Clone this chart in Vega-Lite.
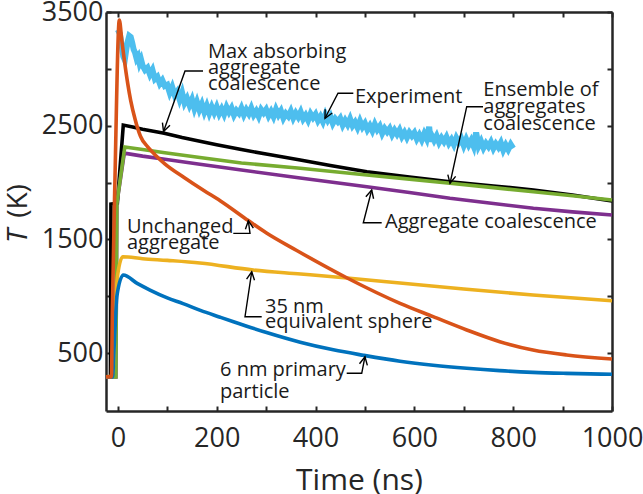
{
  "$schema": "https://vega.github.io/schema/vega-lite/v6.json",
  "width": 506,
  "height": 399,
  "autosize": "none",
  "padding": {"left": 106, "top": 12, "right": 31, "bottom": 83},
  "background": "white",
  "config": {
    "font": "Open Sans",
    "view": {"stroke": null},
    "axis": {
      "grid": false,
      "domainColor": "#262626",
      "domainWidth": 2.5,
      "tickColor": "#262626",
      "tickWidth": 2,
      "tickSize": -5,
      "labelFont": "Open Sans",
      "labelFontSize": 27,
      "labelColor": "#262626",
      "labelOverlap": false,
      "labelFlush": false,
      "labelBound": false,
      "titleFont": "Open Sans",
      "titleFontSize": 30,
      "titleFontWeight": "normal",
      "titleColor": "#262626"
    }
  },
  "datasets": {
    "models": [
      {"series": "Ensemble", "t": -24, "T": 290}, {"series": "Ensemble", "t": -15, "T": 290}, {"series": "Ensemble", "t": -14, "T": 1810}, {"series": "Ensemble", "t": -1, "T": 1818}, {"series": "Ensemble", "t": 11, "T": 2505}, {"series": "Ensemble", "t": 30, "T": 2488}, {"series": "Ensemble", "t": 50, "T": 2468}, {"series": "Ensemble", "t": 94, "T": 2433}, {"series": "Ensemble", "t": 130, "T": 2395}, {"series": "Ensemble", "t": 166, "T": 2362}, {"series": "Ensemble", "t": 200, "T": 2333}, {"series": "Ensemble", "t": 250, "T": 2290}, {"series": "Ensemble", "t": 300, "T": 2250}, {"series": "Ensemble", "t": 369, "T": 2198}, {"series": "Ensemble", "t": 430, "T": 2150}, {"series": "Ensemble", "t": 504, "T": 2095}, {"series": "Ensemble", "t": 590, "T": 2048}, {"series": "Ensemble", "t": 672, "T": 2007}, {"series": "Ensemble", "t": 760, "T": 1970}, {"series": "Ensemble", "t": 841, "T": 1934}, {"series": "Ensemble", "t": 920, "T": 1890}, {"series": "Ensemble", "t": 1000, "T": 1837},
      {"series": "Aggregate", "t": -24, "T": 290}, {"series": "Aggregate", "t": -4, "T": 290}, {"series": "Aggregate", "t": -2, "T": 1818}, {"series": "Aggregate", "t": 13, "T": 2258}, {"series": "Aggregate", "t": 50, "T": 2232}, {"series": "Aggregate", "t": 95, "T": 2205}, {"series": "Aggregate", "t": 166, "T": 2160}, {"series": "Aggregate", "t": 250, "T": 2110}, {"series": "Aggregate", "t": 369, "T": 2040}, {"series": "Aggregate", "t": 504, "T": 1963}, {"series": "Aggregate", "t": 590, "T": 1912}, {"series": "Aggregate", "t": 672, "T": 1861}, {"series": "Aggregate", "t": 760, "T": 1815}, {"series": "Aggregate", "t": 841, "T": 1773}, {"series": "Aggregate", "t": 920, "T": 1742}, {"series": "Aggregate", "t": 1000, "T": 1714},
      {"series": "MaxAbs", "t": -24, "T": 290}, {"series": "MaxAbs", "t": -4, "T": 290}, {"series": "MaxAbs", "t": -2, "T": 1818}, {"series": "MaxAbs", "t": 14, "T": 2313}, {"series": "MaxAbs", "t": 50, "T": 2290}, {"series": "MaxAbs", "t": 95, "T": 2262}, {"series": "MaxAbs", "t": 166, "T": 2220}, {"series": "MaxAbs", "t": 250, "T": 2172}, {"series": "MaxAbs", "t": 369, "T": 2125}, {"series": "MaxAbs", "t": 504, "T": 2066}, {"series": "MaxAbs", "t": 590, "T": 2030}, {"series": "MaxAbs", "t": 672, "T": 1993}, {"series": "MaxAbs", "t": 760, "T": 1955}, {"series": "MaxAbs", "t": 841, "T": 1919}, {"series": "MaxAbs", "t": 920, "T": 1884}, {"series": "MaxAbs", "t": 1000, "T": 1846},
      {"series": "Sphere35", "t": -24, "T": 290}, {"series": "Sphere35", "t": -12, "T": 295}, {"series": "Sphere35", "t": -9, "T": 400}, {"series": "Sphere35", "t": -6, "T": 800}, {"series": "Sphere35", "t": 0, "T": 1200}, {"series": "Sphere35", "t": 10, "T": 1347}, {"series": "Sphere35", "t": 50, "T": 1330}, {"series": "Sphere35", "t": 100, "T": 1315}, {"series": "Sphere35", "t": 166, "T": 1292}, {"series": "Sphere35", "t": 274, "T": 1230}, {"series": "Sphere35", "t": 370, "T": 1195}, {"series": "Sphere35", "t": 464, "T": 1160}, {"series": "Sphere35", "t": 571, "T": 1116}, {"series": "Sphere35", "t": 700, "T": 1063}, {"series": "Sphere35", "t": 840, "T": 1010}, {"series": "Sphere35", "t": 1000, "T": 960},
      {"series": "Primary6", "t": -24, "T": 290}, {"series": "Primary6", "t": -11, "T": 290}, {"series": "Primary6", "t": -7, "T": 600}, {"series": "Primary6", "t": -2, "T": 1000}, {"series": "Primary6", "t": 11, "T": 1186}, {"series": "Primary6", "t": 40, "T": 1110}, {"series": "Primary6", "t": 65, "T": 1054}, {"series": "Primary6", "t": 100, "T": 985}, {"series": "Primary6", "t": 132, "T": 935}, {"series": "Primary6", "t": 167, "T": 875}, {"series": "Primary6", "t": 207, "T": 815}, {"series": "Primary6", "t": 234, "T": 775}, {"series": "Primary6", "t": 301, "T": 680}, {"series": "Primary6", "t": 369, "T": 595}, {"series": "Primary6", "t": 436, "T": 528}, {"series": "Primary6", "t": 497, "T": 480}, {"series": "Primary6", "t": 571, "T": 428}, {"series": "Primary6", "t": 638, "T": 393}, {"series": "Primary6", "t": 706, "T": 366}, {"series": "Primary6", "t": 773, "T": 345}, {"series": "Primary6", "t": 840, "T": 330}, {"series": "Primary6", "t": 908, "T": 321}, {"series": "Primary6", "t": 1000, "T": 313},
      {"series": "Unchanged", "t": -24, "T": 290}, {"series": "Unchanged", "t": -13, "T": 290}, {"series": "Unchanged", "t": -11, "T": 900}, {"series": "Unchanged", "t": -6, "T": 2000}, {"series": "Unchanged", "t": 3, "T": 3430}, {"series": "Unchanged", "t": 8, "T": 3250}, {"series": "Unchanged", "t": 13, "T": 3080}, {"series": "Unchanged", "t": 20, "T": 2870}, {"series": "Unchanged", "t": 26, "T": 2720}, {"series": "Unchanged", "t": 35, "T": 2555}, {"series": "Unchanged", "t": 46, "T": 2405}, {"series": "Unchanged", "t": 60, "T": 2315}, {"series": "Unchanged", "t": 75, "T": 2245}, {"series": "Unchanged", "t": 95, "T": 2165}, {"series": "Unchanged", "t": 134, "T": 2045}, {"series": "Unchanged", "t": 174, "T": 1930}, {"series": "Unchanged", "t": 207, "T": 1840}, {"series": "Unchanged", "t": 264, "T": 1665}, {"series": "Unchanged", "t": 300, "T": 1558}, {"series": "Unchanged", "t": 362, "T": 1402}, {"series": "Unchanged", "t": 464, "T": 1160}, {"series": "Unchanged", "t": 571, "T": 937}, {"series": "Unchanged", "t": 638, "T": 820}, {"series": "Unchanged", "t": 706, "T": 703}, {"series": "Unchanged", "t": 773, "T": 600}, {"series": "Unchanged", "t": 840, "T": 527}, {"series": "Unchanged", "t": 908, "T": 483}, {"series": "Unchanged", "t": 1000, "T": 447}
    ],
    "experiment": [
      {"t": 0, "T": 3345}, {"t": 4, "T": 3310}, {"t": 8, "T": 3200}, {"t": 11, "T": 3110}, {"t": 14, "T": 3080}, {"t": 17, "T": 3170}, {"t": 20, "T": 3240}, {"t": 23, "T": 3290}, {"t": 26, "T": 3280}, {"t": 29, "T": 3230}, {"t": 32, "T": 3170}, {"t": 35, "T": 3140}, {"t": 38, "T": 3090}, {"t": 41, "T": 3110}, {"t": 44, "T": 3050}, {"t": 47, "T": 3080},
      {"t": 50, "T": 3030}, {"t": 55, "T": 2990}, {"t": 60, "T": 3010}, {"t": 65, "T": 2950}, {"t": 70, "T": 2990}, {"t": 75, "T": 2910}, {"t": 80, "T": 2930}, {"t": 85, "T": 2870}, {"t": 90, "T": 2900}, {"t": 95, "T": 2850},
      {"t": 100, "T": 2860}, {"t": 105, "T": 2790}, {"t": 110, "T": 2840}, {"t": 115, "T": 2770}, {"t": 120, "T": 2800}, {"t": 125, "T": 2730}, {"t": 130, "T": 2790}, {"t": 135, "T": 2700}, {"t": 140, "T": 2740}, {"t": 145, "T": 2680},
      {"t": 150, "T": 2730}, {"t": 155, "T": 2650}, {"t": 160, "T": 2710}, {"t": 165, "T": 2640}, {"t": 170, "T": 2690}, {"t": 175, "T": 2620}, {"t": 180, "T": 2675}, {"t": 185, "T": 2610}, {"t": 190, "T": 2665}, {"t": 195, "T": 2615},
      {"t": 200, "T": 2665}, {"t": 205, "T": 2605}, {"t": 210, "T": 2648}, {"t": 215, "T": 2600}, {"t": 220, "T": 2663}, {"t": 225, "T": 2618}, {"t": 230, "T": 2655}, {"t": 235, "T": 2593}, {"t": 240, "T": 2633}, {"t": 245, "T": 2608},
      {"t": 250, "T": 2655}, {"t": 255, "T": 2595}, {"t": 260, "T": 2640}, {"t": 265, "T": 2605}, {"t": 270, "T": 2655}, {"t": 275, "T": 2595}, {"t": 280, "T": 2628}, {"t": 285, "T": 2582}, {"t": 290, "T": 2642}, {"t": 295, "T": 2612},
      {"t": 300, "T": 2642}, {"t": 305, "T": 2587}, {"t": 310, "T": 2625}, {"t": 315, "T": 2580}, {"t": 320, "T": 2643}, {"t": 325, "T": 2595}, {"t": 330, "T": 2630}, {"t": 335, "T": 2567}, {"t": 340, "T": 2607}, {"t": 345, "T": 2582},
      {"t": 350, "T": 2627}, {"t": 355, "T": 2567}, {"t": 360, "T": 2610}, {"t": 365, "T": 2575}, {"t": 370, "T": 2620}, {"t": 375, "T": 2560}, {"t": 380, "T": 2592}, {"t": 385, "T": 2548}, {"t": 390, "T": 2605}, {"t": 395, "T": 2570},
      {"t": 400, "T": 2600}, {"t": 405, "T": 2545}, {"t": 410, "T": 2580}, {"t": 415, "T": 2535}, {"t": 420, "T": 2597}, {"t": 425, "T": 2548}, {"t": 430, "T": 2583}, {"t": 435, "T": 2520}, {"t": 440, "T": 2560}, {"t": 445, "T": 2535},
      {"t": 450, "T": 2565}, {"t": 455, "T": 2505}, {"t": 460, "T": 2547}, {"t": 465, "T": 2510}, {"t": 470, "T": 2560}, {"t": 475, "T": 2500}, {"t": 480, "T": 2530}, {"t": 485, "T": 2483}, {"t": 490, "T": 2540}, {"t": 495, "T": 2488},
      {"t": 500, "T": 2520}, {"t": 505, "T": 2465}, {"t": 510, "T": 2500}, {"t": 515, "T": 2455}, {"t": 520, "T": 2512}, {"t": 525, "T": 2465}, {"t": 530, "T": 2495}, {"t": 535, "T": 2432}, {"t": 540, "T": 2475}, {"t": 545, "T": 2445},
      {"t": 550, "T": 2475}, {"t": 555, "T": 2420}, {"t": 560, "T": 2460}, {"t": 565, "T": 2425}, {"t": 570, "T": 2462}, {"t": 575, "T": 2405}, {"t": 580, "T": 2440}, {"t": 585, "T": 2395}, {"t": 590, "T": 2440}, {"t": 595, "T": 2410},
      {"t": 600, "T": 2438}, {"t": 605, "T": 2383}, {"t": 610, "T": 2420}, {"t": 615, "T": 2375}, {"t": 620, "T": 2430}, {"t": 625, "T": 2385}, {"t": 630, "T": 2490}, {"t": 633, "T": 2360}, {"t": 636, "T": 2405}, {"t": 640, "T": 2370}, {"t": 645, "T": 2410},
      {"t": 650, "T": 2353}, {"t": 655, "T": 2393}, {"t": 660, "T": 2360}, {"t": 665, "T": 2400}, {"t": 670, "T": 2345}, {"t": 675, "T": 2378}, {"t": 680, "T": 2333}, {"t": 685, "T": 2392}, {"t": 690, "T": 2352}, {"t": 695, "T": 2385},
      {"t": 700, "T": 2325}, {"t": 705, "T": 2380}, {"t": 710, "T": 2330}, {"t": 715, "T": 2370}, {"t": 720, "T": 2318}, {"t": 725, "T": 2440}, {"t": 730, "T": 2320}, {"t": 735, "T": 2362}, {"t": 740, "T": 2305}, {"t": 745, "T": 2345},
      {"t": 750, "T": 2315}, {"t": 755, "T": 2355}, {"t": 760, "T": 2300}, {"t": 765, "T": 2340}, {"t": 770, "T": 2310}, {"t": 775, "T": 2350}, {"t": 780, "T": 2285}, {"t": 785, "T": 2330}, {"t": 790, "T": 2290}, {"t": 795, "T": 2335}, {"t": 800, "T": 2300}
    ],
    "leaders": [
      {"id": "max", "i": 0, "t": 172.3, "T": 2981}, {"id": "max", "i": 1, "t": 135.9, "T": 2981}, {"id": "max", "i": 2, "t": 92.4, "T": 2449},
      {"id": "exp", "i": 0, "t": 476.5, "T": 2785}, {"id": "exp", "i": 1, "t": 445.5, "T": 2785}, {"id": "exp", "i": 2, "t": 419.2, "T": 2565},
      {"id": "ens", "i": 0, "t": 739, "T": 2667}, {"id": "ens", "i": 1, "t": 706, "T": 2667}, {"id": "ens", "i": 2, "t": 672.2, "T": 1993},
      {"id": "agg", "i": 0, "t": 533.9, "T": 1646}, {"id": "agg", "i": 1, "t": 496.7, "T": 1646}, {"id": "agg", "i": 2, "t": 513.7, "T": 1934},
      {"id": "unch", "i": 0, "t": 233.6, "T": 1553}, {"id": "unch", "i": 1, "t": 267.4, "T": 1553}, {"id": "unch", "i": 2, "t": 264, "T": 1664},
      {"id": "s35", "i": 0, "t": 291.1, "T": 819.5}, {"id": "s35", "i": 1, "t": 257.3, "T": 819.5}, {"id": "s35", "i": 2, "t": 270.9, "T": 1215},
      {"id": "p6", "i": 0, "t": 463.1, "T": 321.6}, {"id": "p6", "i": 1, "t": 493.5, "T": 321.6}, {"id": "p6", "i": 2, "t": 500.1, "T": 467.7}
    ],
    "heads": [
      {"id": "max", "t": 92.4, "T": 2449, "heading": 199.6},
      {"id": "exp", "t": 419.2, "T": 2565, "heading": 207.5},
      {"id": "ens", "t": 672.2, "T": 1993, "heading": 192.3},
      {"id": "agg", "t": 513.7, "T": 1934, "heading": 14.4},
      {"id": "unch", "t": 264, "T": 1664, "heading": 352.3},
      {"id": "s35", "t": 270.9, "T": 1215, "heading": 8.5},
      {"id": "p6", "t": 500.1, "T": 467.7, "heading": 11.2}
    ],
    "notes": [
      {"t": 182.4, "T": 3148, "text": "Max absorbing"},
      {"t": 182.4, "T": 3007, "text": "aggregate"},
      {"t": 182.4, "T": 2871, "text": "coalescence"},
      {"t": 479.9, "T": 2755, "text": "Experiment"},
      {"t": 739.6, "T": 2814, "text": "Ensemble of"},
      {"t": 739.6, "T": 2662, "text": "aggregates"},
      {"t": 739.6, "T": 2515, "text": "coalescence"},
      {"t": 540.6, "T": 1655, "text": "Aggregate coalescence"},
      {"t": 18.5, "T": 1613, "text": "Unchanged"},
      {"t": 18.5, "T": 1472, "text": "aggregate"},
      {"t": 297.8, "T": 907, "text": "35 nm"},
      {"t": 297.8, "T": 775, "text": "equivalent sphere"},
      {"t": 206.7, "T": 351, "text": "6 nm primary"},
      {"t": 206.7, "T": 160, "text": "particle"}
    ]
  },
  "resolve": {"axis": {"x": "independent", "y": "independent"}},
  "layer": [
    {
      "data": {"name": "experiment"},
      "mark": {"type": "line", "color": "#4DBEEE", "strokeWidth": 6, "strokeJoin": "miter"},
      "encoding": {
        "x": {
          "field": "t", "type": "quantitative",
          "scale": {"domain": [-24, 1000], "nice": false, "zero": false},
          "axis": {
            "orient": "bottom", "title": "Time (ns)", "format": "d",
            "values": [0, 100, 200, 300, 400, 500, 600, 700, 800, 900, 1000],
            "labelExpr": "datum.value % 200 === 0 ? datum.label : ''",
            "labelPadding": 19, "titlePadding": 14
          }
        },
        "y": {
          "field": "T", "type": "quantitative",
          "scale": {"domain": [-10, 3500], "nice": false, "zero": false},
          "axis": {
            "orient": "left", "title": null, "format": "d",
            "values": [500, 1000, 1500, 2000, 2500, 3000, 3500],
            "labelExpr": "datum.value % 1000 === 500 ? datum.label : ''",
            "labelPadding": 8
          }
        }
      }
    },
    {
      "data": {"name": "models"},
      "transform": [{"filter": "datum.series === 'Ensemble'"}],
      "mark": {"type": "line", "color": "#000000", "strokeWidth": 3.6},
      "encoding": {
        "x": {"field": "t", "type": "quantitative", "axis": null},
        "y": {"field": "T", "type": "quantitative", "axis": null}
      }
    },
    {
      "data": {"name": "models"},
      "transform": [{"filter": "datum.series === 'Aggregate'"}],
      "mark": {"type": "line", "color": "#7E2F8E", "strokeWidth": 3.6},
      "encoding": {
        "x": {"field": "t", "type": "quantitative", "axis": null},
        "y": {"field": "T", "type": "quantitative", "axis": null}
      }
    },
    {
      "data": {"name": "models"},
      "transform": [{"filter": "datum.series === 'MaxAbs'"}],
      "mark": {"type": "line", "color": "#77AC30", "strokeWidth": 3.6},
      "encoding": {
        "x": {"field": "t", "type": "quantitative", "axis": null},
        "y": {"field": "T", "type": "quantitative", "axis": null}
      }
    },
    {
      "data": {"name": "models"},
      "transform": [{"filter": "datum.series === 'Sphere35'"}],
      "mark": {"type": "line", "color": "#EDB120", "strokeWidth": 3.6, "interpolate": "monotone"},
      "encoding": {
        "x": {"field": "t", "type": "quantitative", "axis": null},
        "y": {"field": "T", "type": "quantitative", "axis": null}
      }
    },
    {
      "data": {"name": "models"},
      "transform": [{"filter": "datum.series === 'Primary6'"}],
      "mark": {"type": "line", "color": "#0072BD", "strokeWidth": 3.6, "interpolate": "monotone"},
      "encoding": {
        "x": {"field": "t", "type": "quantitative", "axis": null},
        "y": {"field": "T", "type": "quantitative", "axis": null}
      }
    },
    {
      "data": {"name": "models"},
      "transform": [{"filter": "datum.series === 'Unchanged'"}],
      "mark": {"type": "line", "color": "#D95319", "strokeWidth": 3.6, "interpolate": "monotone"},
      "encoding": {
        "x": {"field": "t", "type": "quantitative", "axis": null},
        "y": {"field": "T", "type": "quantitative", "axis": null}
      }
    },
    {
      "data": {"name": "leaders"},
      "mark": {"type": "line", "color": "#000000", "strokeWidth": 1.4},
      "encoding": {
        "x": {"field": "t", "type": "quantitative", "axis": null},
        "y": {"field": "T", "type": "quantitative", "axis": null},
        "detail": {"field": "id"},
        "order": {"field": "i"}
      }
    },
    {
      "data": {"name": "heads"},
      "mark": {"type": "point", "shape": "M-0.5,1L0,0L0.5,1", "filled": false, "stroke": "#000000", "strokeWidth": 1.4, "opacity": 1, "size": 256},
      "encoding": {
        "x": {"field": "t", "type": "quantitative", "axis": null},
        "y": {"field": "T", "type": "quantitative", "axis": null},
        "angle": {"field": "heading", "type": "quantitative", "scale": null}
      }
    },
    {
      "data": {"name": "notes"},
      "mark": {"type": "text", "align": "left", "baseline": "middle", "font": "Open Sans", "fontSize": 20, "color": "#1a1a1a"},
      "encoding": {
        "x": {"field": "t", "type": "quantitative", "axis": null},
        "y": {"field": "T", "type": "quantitative", "axis": null},
        "text": {"field": "text"}
      }
    },
    {
      "data": {"values": [{"t": -200, "T": 1529, "text": "T"}]},
      "mark": {"type": "text", "angle": 270, "align": "center", "baseline": "middle", "font": "Open Sans", "fontSize": 28, "fontStyle": "italic", "color": "#262626"},
      "encoding": {
        "x": {"field": "t", "type": "quantitative", "axis": null},
        "y": {"field": "T", "type": "quantitative", "axis": null},
        "text": {"field": "text"}
      }
    },
    {
      "data": {"values": [{"t": -200, "T": 1837, "text": "(K)"}]},
      "mark": {"type": "text", "angle": 270, "align": "center", "baseline": "middle", "font": "Open Sans", "fontSize": 28, "color": "#262626"},
      "encoding": {
        "x": {"field": "t", "type": "quantitative", "axis": null},
        "y": {"field": "T", "type": "quantitative", "axis": null},
        "text": {"field": "text"}
      }
    },
    {
      "data": {"name": "heads"},
      "mark": {"type": "point", "opacity": 0},
      "encoding": {
        "x": {
          "field": "t", "type": "quantitative",
          "axis": {"orient": "top", "labels": false, "title": null, "values": [0, 100, 200, 300, 400, 500, 600, 700, 800, 900, 1000]}
        },
        "y": {
          "field": "T", "type": "quantitative",
          "axis": {"orient": "right", "labels": false, "title": null, "values": [500, 1000, 1500, 2000, 2500, 3000, 3500]}
        }
      }
    }
  ]
}
